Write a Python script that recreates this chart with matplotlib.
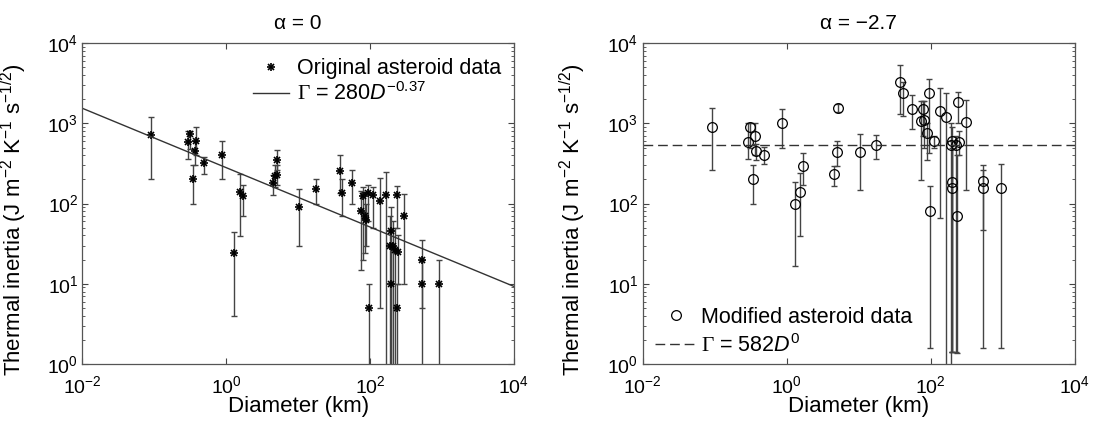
import matplotlib
matplotlib.use('Agg')
import matplotlib.pyplot as plt
import numpy as np

plt.rcParams['font.family'] = ['Liberation Sans', 'DejaVu Sans']
plt.rcParams['mathtext.fontset'] = 'custom'
plt.rcParams['mathtext.rm'] = 'Liberation Sans'
plt.rcParams['mathtext.it'] = 'Liberation Sans:italic'
plt.rcParams['mathtext.bf'] = 'Liberation Sans:bold'
plt.rcParams['mathtext.sf'] = 'Liberation Serif'

# original asteroid data (left panel)
orig_d = [0.091, 0.294, 0.317, 0.373, 0.366, 0.345, 0.486, 0.875, 1.28, 1.54, 1.68,
          4.47, 4.82, 5.08, 5.13, 10.3, 17.7, 37.8, 40.7, 55.5, 75.6, 80.1, 85, 88.7,
          95.5, 93, 110, 136, 165, 195, 190, 197, 208, 220, 238, 240, 245, 297, 528, 533, 908]
orig_g = [715, 584, 729, 601, 451, 203, 316, 402, 24.2, 139, 123,
          181, 220, 348, 224, 91, 153, 254, 136, 181, 80, 123, 69.5, 63,
          5, 136, 127, 107, 127, 45, 30, 10, 30, 26.5, 5, 127, 25, 71, 20, 10, 10]
orig_lo = [200, 355, 480, 400, 300, 100, 237, 200, 4.0, 39, 69.5,
           129, 160, 260, 170, 30, 100, 136, 71, 100, 15, 20, 24, 30,
           0.5, 60, 50, 5, 0.5, 0.5, 0.5, 0.5, 0.5, 0.5, 0.5, 50, 10, 10, 5, 0.5, 0.5]
orig_hi = [1210, 800, 800, 908, 600, 301, 380, 601, 44.7, 237, 169,
           230, 300, 460, 300, 150, 200, 402, 200, 261, 143, 160, 140, 100,
           10, 170, 160, 207, 249, 91, 70, 30, 60, 50, 10, 168, 40, 133, 35, 20, 20]

# modified asteroid data (right panel)
mod_d = [0.092, 0.294, 0.315, 0.34, 0.365, 0.37, 0.486, 0.855, 1.31, 1.54, 1.68,
         4.47, 4.97, 5.08, 10.5, 17.5, 37.8, 40.7, 55.5, 74, 78, 81.6, 87.6, 94.6,
         96, 110, 133, 165, 193, 199, 199, 199, 222, 234, 237, 243, 303, 527, 538, 929]
mod_g = [908, 584, 908, 203, 695, 451, 402, 1000, 100, 140, 298,
         235, 442, 1570, 442, 535, 3318, 2417, 1524, 1070, 1496, 1110, 764, 2417,
         80, 601, 1413, 1211, 535, 601, 186, 157, 535, 70.8, 1848, 584, 1039, 190, 157, 157]
mod_lo = [261, 355, 500, 100, 400, 350, 307, 496, 16.5, 39.8, 170,
          165, 290, 1400, 147, 355, 1300, 1237, 858, 196, 700, 500, 350, 429,
          1.57, 500, 66, 0.5, 0.5, 1.4, 1.4, 1.4, 1.4, 1.36, 1000, 400, 147, 1.57, 47, 1.57]
mod_hi = [1570, 1000, 1019, 301, 1019, 560, 506, 1496, 186, 242, 429,
          293, 601, 1750, 743, 708, 5310, 3318, 2239, 1900, 1900, 1900, 1000, 3615,
          165, 700, 2738, 2417, 1000, 900, 600, 500, 700, 400, 2464, 800, 1940, 259, 300, 307]

fit_coef = 280
fit_exp = -0.37
flat_level = 535


def style_axes(ax, title):
    ax.set_xscale('log')
    ax.set_yscale('log')
    ax.set_xlim(1e-2, 1e4)
    ax.set_ylim(1, 1e4)
    ax.set_xticks([1e-2, 1e0, 1e2, 1e4])
    ax.set_yticks([1e0, 1e1, 1e2, 1e3, 1e4])
    ax.xaxis.set_minor_locator(matplotlib.ticker.NullLocator())
    ax.tick_params(which='both', direction='in', top=True, right=True, labelsize=14,
                   color='#444444')
    ax.tick_params(which='major', length=4)
    ax.tick_params(which='minor', length=2)
    ax.tick_params(axis='x', pad=8)
    ax.tick_params(axis='y', pad=3)
    for s in ax.spines.values():
        s.set_color('#555555')
        s.set_linewidth(0.9)
    ax.set_xlabel('Diameter (km)', fontsize=16, labelpad=-1)
    ax.set_ylabel(r'Thermal inertia (J m$^{-2}$ K$^{-1}$ s$^{-1/2}$)', fontsize=16)
    ax.yaxis.set_label_coords(-0.125, 0.45)
    ax.set_title(title, fontsize=15, pad=10)


fig = plt.figure(figsize=(10.94, 4.25), dpi=100)
ax1 = fig.add_axes([0.0754, 0.1435, 0.3944, 0.755])
ax2 = fig.add_axes([0.5873, 0.1435, 0.3953, 0.755])

# left panel
g = np.array(orig_g)
yerr = [g - np.array(orig_lo), np.array(orig_hi) - g]
ax1.errorbar(orig_d, orig_g, yerr=yerr, fmt='none', ecolor='#444444', elinewidth=1.0,
             capsize=2.2, capthick=1.0)
p_plus, = ax1.plot(orig_d, orig_g, '+', color='black', markersize=5.5, mew=1.2, linestyle='none')
p_x, = ax1.plot(orig_d, orig_g, 'x', color='black', markersize=4.5, mew=1.2, linestyle='none')
dd = np.logspace(-2, 4, 50)
fit_line, = ax1.plot(dd, fit_coef * dd ** fit_exp, '-', color='#333333', linewidth=1.0)
style_axes(ax1, 'α = 0')
ax1.legend([(p_plus, p_x), fit_line],
           ['Original asteroid data', r'$\mathsf{\Gamma}$ = 280$D^{-0.37}$'],
           loc='upper right', frameon=False, fontsize=15.5, handlelength=1.7,
           handletextpad=0.35, borderaxespad=0.3, labelspacing=0.15,
           bbox_to_anchor=(1.005, 1.0))

# right panel
g2 = np.array(mod_g)
yerr2 = [g2 - np.array(mod_lo), np.array(mod_hi) - g2]
ax2.errorbar(mod_d, mod_g, yerr=yerr2, fmt='none', ecolor='#444444', elinewidth=1.0,
             capsize=2.2, capthick=1.0)
ax2.plot(mod_d, mod_g, 'o', mfc='none', mec='black', markersize=7, mew=0.9,
         linestyle='none', label='Modified asteroid data')
ax2.axhline(flat_level, color='#333333', linestyle=(0, (7, 3.5)), linewidth=1.0,
            label=r'$\mathsf{\Gamma}$ = 582$D^{0}$')
style_axes(ax2, 'α = −2.7')
ax2.legend(loc='lower left', frameon=False, fontsize=15.5, handlelength=1.9,
           handletextpad=0.2, borderaxespad=0.3, labelspacing=0.3,
           bbox_to_anchor=(-0.005, -0.025))

fig.savefig('out.png', dpi=100)
